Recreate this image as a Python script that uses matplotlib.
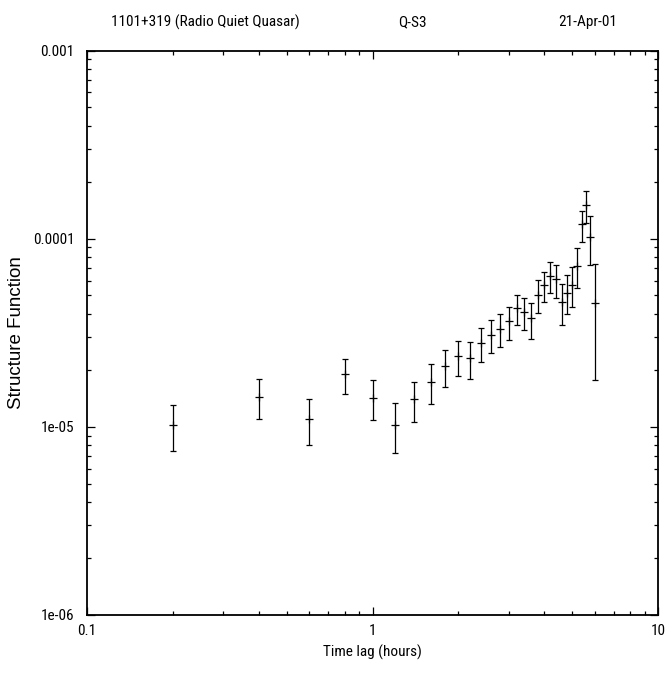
import matplotlib
matplotlib.use("Agg")
import matplotlib.pyplot as plt
from matplotlib.ticker import FixedLocator, FixedFormatter, LogLocator, NullFormatter

plt.rcParams['font.family'] = ['Roboto Condensed', 'Archivo Narrow', 'Liberation Sans', 'DejaVu Sans']

# structure function vs time lag
lag = [0.2, 0.4, 0.6, 0.8, 1.0, 1.2, 1.4, 1.6, 1.8, 2.0, 2.2, 2.4, 2.6, 2.8, 3.0,
       3.2, 3.4, 3.6, 3.8, 4.0, 4.2, 4.4, 4.6, 4.8, 5.0, 5.2, 5.4, 5.6, 5.8, 6.0]
sf = [1.026e-5, 1.449e-5, 1.105e-5, 1.908e-5, 1.425e-5, 1.026e-5, 1.402e-5, 1.735e-5,
      2.099e-5, 2.373e-5, 2.315e-5, 2.786e-5, 3.087e-5, 3.336e-5, 3.638e-5, 4.27e-5,
      4.064e-5, 3.775e-5, 5.01e-5, 5.65e-5, 6.37e-5, 6.08e-5, 4.64e-5, 5.18e-5,
      5.70e-5, 7.17e-5, 1.194e-4, 1.51e-4, 1.025e-4, 4.565e-5]
sf_lo = [7.45e-6, 1.105e-5, 8.02e-6, 1.504e-5, 1.082e-5, 7.23e-6, 1.056e-5, 1.318e-5,
         1.632e-5, 1.869e-5, 1.801e-5, 2.221e-5, 2.472e-5, 2.673e-5, 2.903e-5, 3.479e-5,
         3.283e-5, 2.949e-5, 4.05e-5, 4.6e-5, 5.18e-5, 4.85e-5, 3.479e-5, 3.985e-5,
         4.32e-5, 5.46e-5, 9.64e-5, 1.218e-4, 7.29e-5, 1.766e-5]
sf_hi = [1.313e-5, 1.788e-5, 1.414e-5, 2.305e-5, 1.778e-5, 1.334e-5, 1.729e-5, 2.151e-5,
         2.557e-5, 2.877e-5, 2.831e-5, 3.365e-5, 3.701e-5, 4.0e-5, 4.36e-5, 5.04e-5,
         4.87e-5, 4.565e-5, 6.01e-5, 6.69e-5, 7.53e-5, 7.26e-5, 5.77e-5, 6.41e-5,
         7.08e-5, 8.95e-5, 1.413e-4, 1.807e-4, 1.328e-4, 7.35e-5]

yticks = [1e-6, 1e-5, 1e-4, 1e-3]
ytick_labels = ["1e-06", "1e-05", "0.0001", "0.001"]
xticks = [0.1, 1, 10]
xtick_labels = ["0.1", "1", "10"]

fig = plt.figure(figsize=(6.7, 6.77), dpi=100)
ax = fig.add_axes([0.13, 0.0916, 0.852, 0.8334])

yerr = [[c - lo for c, lo in zip(sf, sf_lo)], [hi - c for c, hi in zip(sf, sf_hi)]]
ax.errorbar(lag, sf, yerr=yerr, fmt='+', color='black', ms=5.5, mew=0.9,
            elinewidth=0.9, capsize=2.5, capthick=0.9)

ax.set_xscale('log')
ax.set_yscale('log')
ax.set_xlim(0.1, 10)
ax.set_ylim(1e-6, 1e-3)

ax.xaxis.set_major_locator(FixedLocator(xticks))
ax.xaxis.set_major_formatter(FixedFormatter(xtick_labels))
ax.yaxis.set_major_locator(FixedLocator(yticks))
ax.yaxis.set_major_formatter(FixedFormatter(ytick_labels))
for axis in (ax.xaxis, ax.yaxis):
    axis.set_minor_locator(LogLocator(base=10, subs=range(2, 10)))
    axis.set_minor_formatter(NullFormatter())

ax.tick_params(which='both', direction='in', top=True, right=True, labelsize=11, width=0.9)
ax.tick_params(which='major', length=5.8)
ax.tick_params(which='minor', length=2.9)
ax.tick_params(axis='x', which='major', pad=6.5)
ax.tick_params(axis='y', which='major', pad=9)
for s in ax.spines.values():
    s.set_linewidth(1.3)

ax.set_xlabel("Time lag (hours)", fontsize=11, labelpad=5)
ax.set_ylabel("Structure Function", fontsize=13.5, labelpad=6,
              family=['Liberation Sans', 'DejaVu Sans'])

fig.text(205 / 670, 1 - 22 / 677, "1101+319 (Radio Quiet Quasar)", ha='center', va='center', fontsize=11)
fig.text(412 / 670, 1 - 22 / 677, "Q-S3", ha='center', va='center', fontsize=11)
fig.text(588 / 670, 1 - 22 / 677, "21-Apr-01", ha='center', va='center', fontsize=11)

fig.savefig("out.png", dpi=100)
